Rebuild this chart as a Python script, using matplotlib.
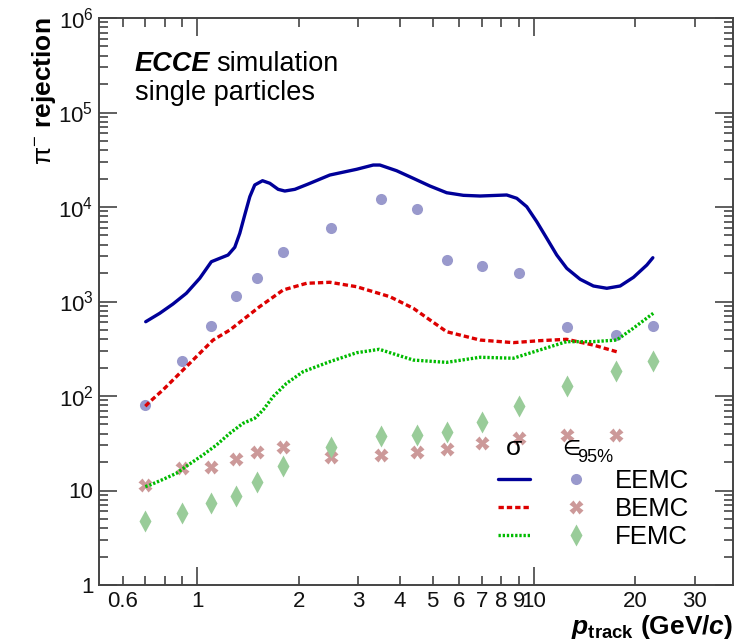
import matplotlib
matplotlib.use("Agg")
import matplotlib.pyplot as plt
from matplotlib.legend_handler import HandlerTuple
from matplotlib.ticker import FixedLocator, FixedFormatter, NullFormatter

plt.rcParams['font.family'] = ['Liberation Sans', 'DejaVu Sans']
plt.rcParams['mathtext.fontset'] = 'custom'
plt.rcParams['mathtext.rm'] = 'Liberation Sans'
plt.rcParams['mathtext.it'] = 'Liberation Sans:italic'
plt.rcParams['mathtext.bf'] = 'Liberation Sans:bold'
try:
    plt.rcParams['mathtext.bfit'] = 'Liberation Sans:italic:bold'
except KeyError:
    pass

# ---------------- data ----------------
p_points = [0.7, 0.9, 1.1, 1.3, 1.5, 1.8, 2.5, 3.5, 4.5, 5.5, 7, 9, 12.5, 17.5, 22.5]
eemc_eff = [80, 236, 555, 1143, 1786, 3366, 6000, 12060, 9455, 2768, 2375, 2018, 533, 442, 555]
bemc_p = [0.7, 0.9, 1.1, 1.3, 1.5, 1.8, 2.5, 3.5, 4.5, 5.5, 7, 9, 12.5, 17.5]
bemc_eff = [11.4, 17.2, 17.6, 21.4, 25.7, 29.1, 22.8, 23.8, 25.7, 27.3, 31.6, 35.7, 38.7, 38.7]
femc_eff = [4.76, 5.82, 7.43, 8.75, 12.2, 18.3, 28.6, 37.7, 38.7, 42.1, 53.1, 78.4, 127.6, 185.5, 234.5]

eemc_sig_p = [0.702, 0.7725, 0.846, 0.927, 1.016, 1.100, 1.165, 1.233, 1.291, 1.336, 1.382,
              1.431, 1.480, 1.561, 1.641, 1.737, 1.818, 1.947, 2.133, 2.474, 2.971, 3.328,
              3.484, 3.906, 4.375, 4.906, 5.500, 6.166, 6.914, 8.295, 8.886, 9.513, 10.19,
              10.91, 11.68, 12.51, 13.71, 15.01, 16.45, 18.02, 19.74, 21.63, 22.54]
eemc_sig = [611, 750, 941, 1222, 1761, 2637, 2864, 3104, 3748, 5272, 8227,
            12860, 17100, 18970, 17810, 15380, 14760, 15380, 17500, 21800, 25060, 27800,
            27800, 24200, 20130, 16670, 14160, 13290, 13070, 13400, 12360, 10070, 6986,
            4664, 3104, 2244, 1718, 1459, 1380, 1459, 1803, 2432, 2905]

bemc_sig_p = [0.70, 0.722, 0.790, 0.886, 0.993, 1.113, 1.248, 1.53, 1.797, 2.11, 2.475,
              2.97, 3.73, 4.38, 5.50, 6.91, 8.68, 10.4, 12.5, 15.0, 17.6]
bemc_sig = [78, 87, 116, 174, 261, 391, 499, 881, 1324, 1559, 1597,
            1434, 1124, 847, 479, 391, 367, 385, 398, 346, 294]

femc_sig_p = [0.70, 0.722, 0.790, 0.866, 0.938, 1.039, 1.139, 1.248, 1.366, 1.480, 1.567,
              1.678, 1.839, 2.061, 2.474, 2.97, 3.47, 4.38, 5.50, 6.91, 8.68, 10.4,
              12.5, 15.0, 17.6, 19.7, 22.6]
femc_sig = [11.0, 11.4, 13.1, 15.2, 18.6, 23.8, 30.3, 40.3, 51.4, 58.1, 71.1,
            98.4, 136, 181, 231, 287, 312, 240, 227, 257, 251, 307,
            376, 376, 391, 520, 750]

x_major = [1, 10]
x_minor = [0.6, 0.7, 0.8, 0.9, 2, 3, 4, 5, 6, 7, 8, 9, 20, 30]
x_minor_labels = ['0.6', '', '', '', '2', '3', '4', '5', '6', '7', '8', '9', '20', '30']
y_major = [1, 10, 1e2, 1e3, 1e4, 1e5, 1e6]
y_labels = ['1', '10', r'$10^{2}$', r'$10^{3}$', r'$10^{4}$', r'$10^{5}$', r'$10^{6}$']

# ---------------- figure ----------------
fig = plt.figure(figsize=(7.35, 6.44), dpi=100)
ax = fig.add_axes([99/735, 1-585/644, (733-99)/735, (585-18)/644])
ax.set_xscale('log')
ax.set_yscale('log')
ax.set_xlim(0.51, 39)
ax.set_ylim(1, 1e6)

c_e_line = '#000099'
c_b_line = '#dd0000'
c_f_line = '#00bb00'
c_e_m = '#9999cc'
c_b_m = '#cc9999'
c_f_m = '#99cc99'

l_e, = ax.plot(eemc_sig_p, eemc_sig, color=c_e_line, lw=2.4, solid_joinstyle='round',
               solid_capstyle='round', zorder=3)
l_b, = ax.plot(bemc_sig_p, bemc_sig, color=c_b_line, lw=2.4, dashes=(1.6, 0.9), zorder=3)
l_f, = ax.plot(femc_sig_p, femc_sig, color=c_f_line, lw=2.4, dashes=(0.7, 0.55), zorder=3)

m_e, = ax.plot(p_points, eemc_eff, ls='none', marker='o', ms=8, color=c_e_m, mec='none', zorder=2)
m_b, = ax.plot(bemc_p, bemc_eff, ls='none', marker='X', ms=10, color=c_b_m, mec='none', zorder=2)
m_f, = ax.plot(p_points, femc_eff, ls='none', marker='d', ms=11, color=c_f_m, mec='none', zorder=2)

# ticks
ax.xaxis.set_major_locator(FixedLocator(x_major))
ax.xaxis.set_major_formatter(FixedFormatter(['1', '10']))
ax.xaxis.set_minor_locator(FixedLocator(x_minor))
ax.xaxis.set_minor_formatter(FixedFormatter(x_minor_labels))
ax.yaxis.set_major_locator(FixedLocator(y_major))
ax.yaxis.set_major_formatter(FixedFormatter(y_labels))
y_minor = [m * 10**d for d in range(0, 6) for m in range(2, 10)]
ax.yaxis.set_minor_locator(FixedLocator(y_minor))
ax.yaxis.set_minor_formatter(NullFormatter())

spine_c = '#444444'
for s in ax.spines.values():
    s.set_color(spine_c)
    s.set_linewidth(1.4)
ax.tick_params(which='both', direction='in', top=True, right=True, color=spine_c, width=1.2,
               labelcolor='#111111')
ax.tick_params(which='major', length=13)
ax.tick_params(which='minor', length=6.5)
ax.tick_params(axis='x', which='both', labelsize=16, pad=4)
ax.tick_params(axis='y', which='both', labelsize=16, pad=4)

# axis titles
fig.text(44/735, 1-17/644, r'$\mathrm{\pi}^{-}$ rejection', fontsize=19, fontweight='bold',
         rotation=90, ha='center', va='top')
fig.text(733/735, 1-634/644, r'$\mathbfit{p}_{\mathbf{track}}$ (GeV/$\mathbfit{c}$)',
         fontsize=19, fontweight='bold', ha='right', va='baseline')

# annotations
t1 = fig.text(135/735, 1-71/644, 'ECCE', fontsize=19.5, fontweight='bold', style='italic',
              va='baseline', ha='left')
ax.annotate('simulation', xy=(1, 0), xycoords=t1, xytext=(4, 0), textcoords='offset points',
            fontsize=19.5, va='bottom', ha='left')
fig.text(135/735, 1-100/644, 'single particles', fontsize=19.5, va='baseline', ha='left')

# legend
fs = 18.5
leg = ax.legend([(l_e, m_e), (l_b, m_b), (l_f, m_f)], ['EEMC', 'BEMC', 'FEMC'],
                handler_map={tuple: HandlerTuple(ndivide=None, pad=1.167)},
                loc='upper left', bbox_to_anchor=(498/735, 1-469/644),
                bbox_transform=fig.transFigure, frameon=False, fontsize=fs,
                handlelength=3.66, handletextpad=0.9, labelspacing=0.15,
                borderpad=0, borderaxespad=0, numpoints=1)
fig.text(514/735, 1-455/644, 'σ', fontsize=19, ha='center', va='baseline')
fig.text(562/735, 1-455/644, '∈', fontsize=15, ha='left', va='baseline',
         family=['DejaVu Sans'])
fig.text(577/735, 1-462/644, '95%', fontsize=13, ha='left', va='baseline')

fig.savefig('out.png', dpi=100)
